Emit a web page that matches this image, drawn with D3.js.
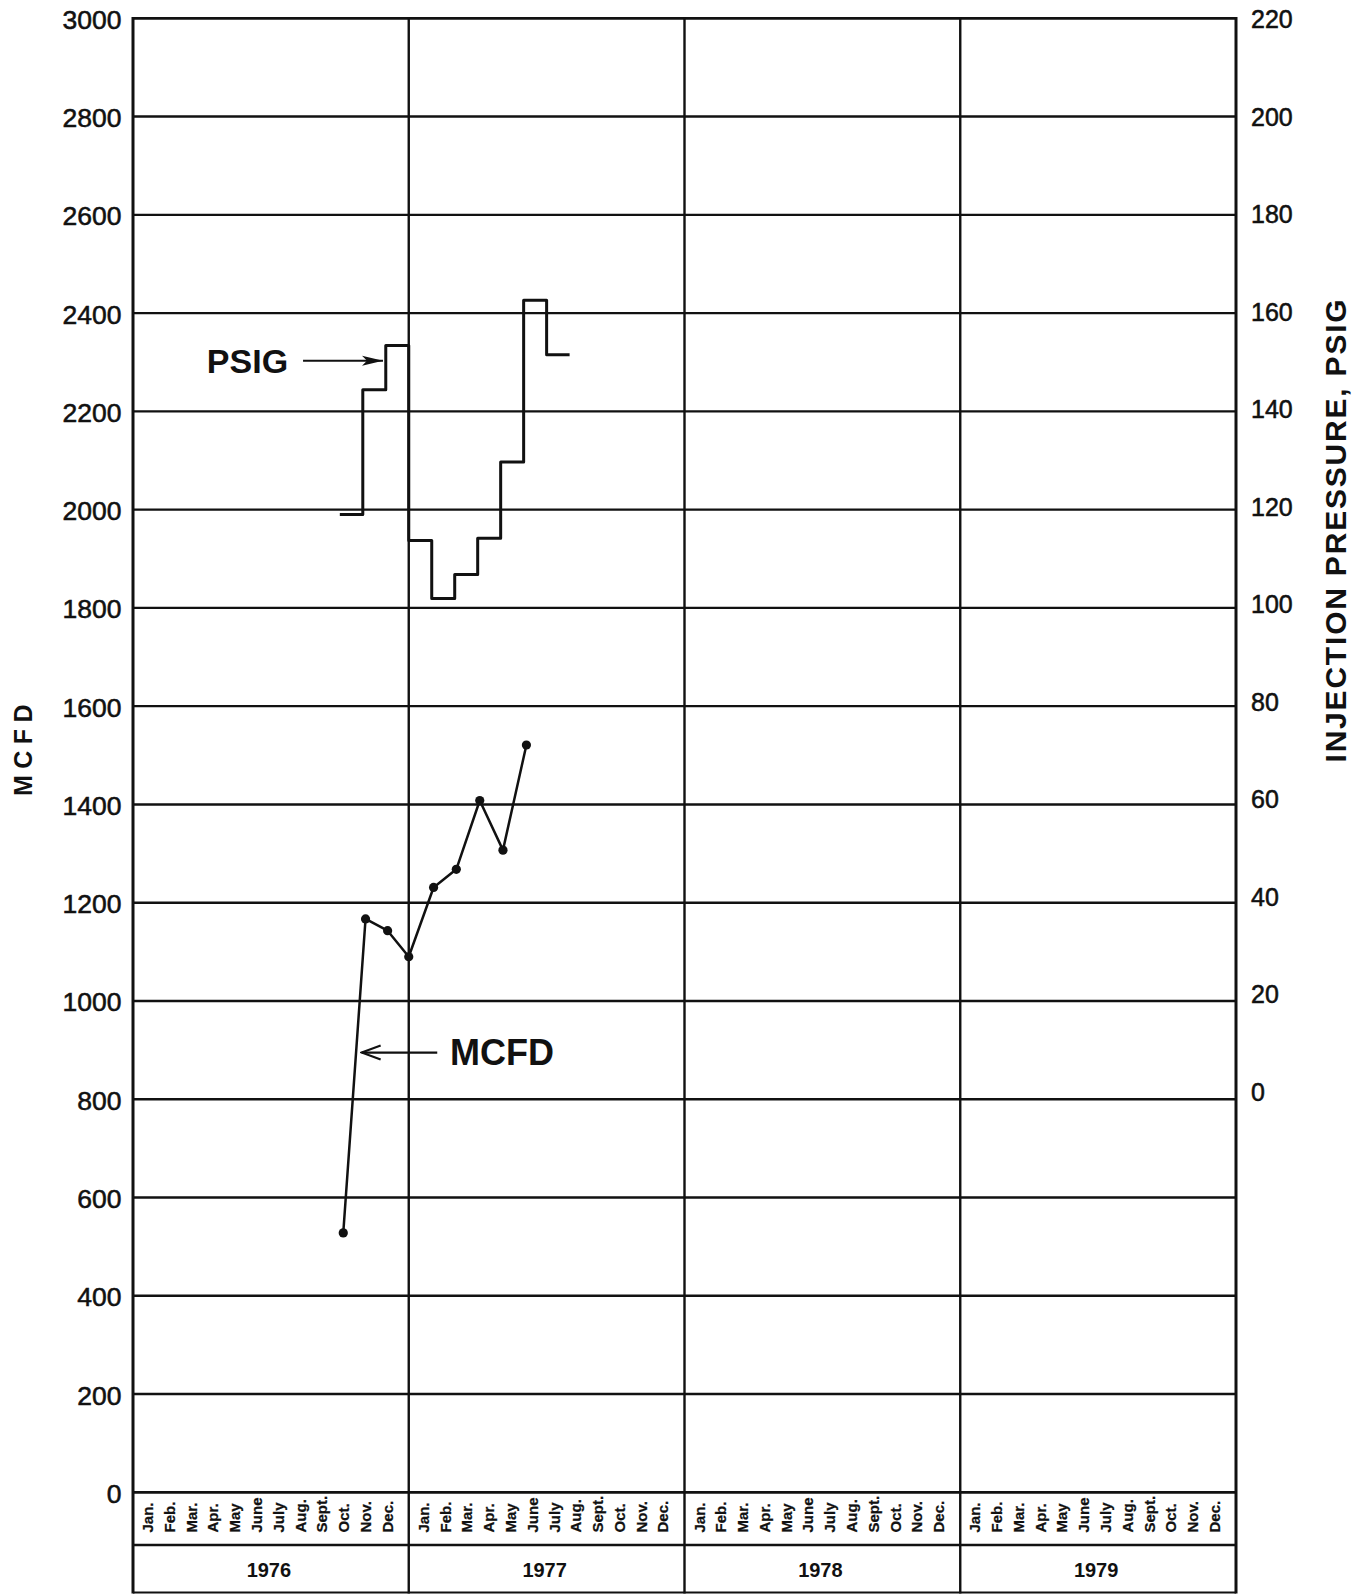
<!DOCTYPE html>
<html>
<head>
<meta charset="utf-8">
<script src="https://cdn.jsdelivr.net/npm/d3@7"></script>
<style>
  html, body { margin: 0; padding: 0; background: #fff; }
  svg { display: block; }
  text { font-family: "Liberation Sans", Arial, Helvetica, sans-serif; fill: #111; }
</style>
</head>
<body>
<svg id="chart" width="1364" height="1594"></svg>
<script>
// ---- data ----
const years = [1976, 1977, 1978, 1979];
const monthLabels = ["Jan.", "Feb.", "Mar.", "Apr.", "May", "June", "July", "Aug.", "Sept.", "Oct.", "Nov.", "Dec."];
const mcfdTicks = d3.range(0, 3001, 200);
const psigTicks = d3.range(0, 221, 20);

// Injection rate (MCFD); position in months counted from Jan. 1, 1976
const mcfdMonth = [9.15, 10.12, 11.08, 12.0, 13.08, 14.07, 15.09, 16.1, 17.12];
const mcfdValue = [528, 1167, 1143, 1090, 1231, 1268, 1408, 1307, 1521];

// Monthly injection pressure (PSIG), one value per month from Oct. 1976
const psigStartMonth = 9;
const psigValue = [119, 144.4, 153.4, 113.7, 101.9, 106.8, 114.2, 129.7, 162.6, 151.5];

// ---- layout ----
const W = 1364, H = 1594;
const plotLeft = 133, plotRight = 1236, plotTop = 18.3, plotBottom = 1492.3;
const monthRowBottom = 1545, yearRowBottom = 1592.5;
const ink = "#111";

const svg = d3.select("#chart");
svg.append("rect").attr("width", W).attr("height", H).attr("fill", "#fff");

const x = d3.scaleLinear().domain([0, years.length * 12]).range([plotLeft, plotRight]);
const y = d3.scaleLinear().domain([0, 3000]).range([plotBottom, plotTop]);
// right axis: 0 PSIG sits on the 800 MCFD line, 20 PSIG per 200 MCFD
const yP = d3.scaleLinear().domain([-80, 220]).range([plotBottom, plotTop]);

// ---- grid ----
const grid = svg.append("g").attr("stroke", ink).attr("fill", "none");
grid.selectAll("line.h").data(mcfdTicks).join("line")
  .attr("class", "h")
  .attr("x1", x(0)).attr("x2", x(years.length * 12))
  .attr("y1", d => y(d)).attr("y2", d => y(d))
  .attr("stroke-width", d => (d === 0 || d === 3000) ? 2.8 : 2.4);

const bounds = d3.range(0, years.length + 1).map(i => i * 12);
grid.selectAll("line.v").data(bounds).join("line")
  .attr("class", "v")
  .attr("x1", d => x(d)).attr("x2", d => x(d))
  .attr("y1", plotTop - 1.2).attr("y2", yearRowBottom + 1)
  .attr("stroke-width", (d, i) => (i === 0 || i === bounds.length - 1) ? 3 : 2.4);

grid.append("line")
  .attr("x1", x(0)).attr("x2", x(years.length * 12))
  .attr("y1", monthRowBottom).attr("y2", monthRowBottom)
  .attr("stroke-width", 2.6);
grid.append("line")
  .attr("x1", x(0)).attr("x2", x(years.length * 12))
  .attr("y1", yearRowBottom).attr("y2", yearRowBottom)
  .attr("stroke-width", 2.2);

// ---- axis labels ----
svg.append("g").selectAll("text").data(mcfdTicks).join("text")
  .attr("x", plotLeft - 11.5)
  .attr("y", d => y(d) + 1.2)
  .attr("dy", "0.35em")
  .attr("text-anchor", "end")
  .attr("font-size", 26.5)
  .attr("stroke", ink).attr("stroke-width", 0.55)
  .text(d => d);

svg.append("g").selectAll("text").data(psigTicks).join("text")
  .attr("x", plotRight + 15)
  .attr("y", d => yP(d) + 1 - 8 * (1 - d / 220))
  .attr("dy", "0.35em")
  .attr("text-anchor", "start")
  .attr("font-size", 25)
  .attr("stroke", ink).attr("stroke-width", 0.55)
  .text(d => d);

// month names, rotated, per year
years.forEach((yr, yi) => {
  const mx = d3.scalePoint().domain(monthLabels)
    .range([x(yi * 12), x(yi * 12 + 12)])
    .padding(0.83).align(0.41);
  svg.append("g").selectAll("text").data(monthLabels).join("text")
    .attr("transform", d => `translate(${mx(d)},1532.5) rotate(-90)`)
    .attr("dy", "0.35em")
    .attr("text-anchor", "start")
    .attr("font-size", 15)
    .attr("font-weight", "bold")
    .attr("stroke", ink).attr("stroke-width", 0.25)
    .text(d => d);
});

svg.append("g").selectAll("text").data(years).join("text")
  .attr("x", (d, i) => x(i * 12 + 6) - 2)
  .attr("y", (monthRowBottom + yearRowBottom) / 2 + 1)
  .attr("dy", "0.35em")
  .attr("text-anchor", "middle")
  .attr("font-size", 20)
  .attr("font-weight", "bold")
  .text(d => d);

// axis titles
svg.append("text")
  .attr("transform", `translate(23,747) rotate(-90)`)
  .attr("dy", "0.35em")
  .attr("text-anchor", "middle")
  .attr("font-size", 25)
  .attr("font-weight", "bold")
  .attr("letter-spacing", 6.5)
  .text("MCFD");

svg.append("text")
  .attr("transform", `translate(1335,530) rotate(-90)`)
  .attr("dy", "0.35em")
  .attr("text-anchor", "middle")
  .attr("font-size", 30)
  .attr("font-weight", "bold")
  .attr("letter-spacing", 1.8)
  .text("INJECTION PRESSURE, PSIG");

// ---- series ----
const psigPts = psigValue.map((v, i) => ({ m: psigStartMonth + i, v }));
psigPts.push({ m: psigStartMonth + psigValue.length, v: psigValue[psigValue.length - 1] });

svg.append("path")
  .datum(psigPts)
  .attr("fill", "none")
  .attr("stroke", ink)
  .attr("stroke-width", 3)
  .attr("stroke-linejoin", "round")
  .attr("d", d3.line().x(d => x(d.m)).y(d => yP(d.v)).curve(d3.curveStepAfter));

const mcfdPts = mcfdValue.map((v, i) => ({ m: mcfdMonth[i], v }));
svg.append("path")
  .datum(mcfdPts)
  .attr("fill", "none")
  .attr("stroke", ink)
  .attr("stroke-width", 2.5)
  .attr("stroke-linejoin", "round")
  .attr("d", d3.line().x(d => x(d.m)).y(d => y(d.v)));

svg.append("g").selectAll("circle").data(mcfdPts).join("circle")
  .attr("cx", d => x(d.m))
  .attr("cy", d => y(d.v))
  .attr("r", 4.6)
  .attr("fill", ink);

// ---- callouts ----
const defs = svg.append("defs");
defs.append("marker")
  .attr("id", "headSolid")
  .attr("viewBox", "-24 -7 26 14")
  .attr("refX", 0).attr("refY", 0)
  .attr("markerWidth", 26).attr("markerHeight", 14)
  .attr("markerUnits", "userSpaceOnUse")
  .attr("orient", "auto")
  .append("path")
  .attr("d", "M-21,-5L0,0L-21,5L-16,0Z")
  .attr("fill", ink);

defs.append("marker")
  .attr("id", "headOpen")
  .attr("viewBox", "-22 -9 24 18")
  .attr("refX", 0).attr("refY", 0)
  .attr("markerWidth", 24).attr("markerHeight", 18)
  .attr("markerUnits", "userSpaceOnUse")
  .attr("orient", "auto")
  .append("path")
  .attr("d", "M-19,-7L0,0L-19,7")
  .attr("fill", "none")
  .attr("stroke", ink)
  .attr("stroke-width", 2.2);

const psigCallout = { textM: 6.75, tailM: 7.4, tipM: 10.88, v: 150.3 };
svg.append("text")
  .attr("x", x(psigCallout.textM))
  .attr("y", yP(psigCallout.v))
  .attr("dy", "0.35em")
  .attr("text-anchor", "end")
  .attr("font-size", 34)
  .attr("font-weight", "bold")
  .text("PSIG");
svg.append("line")
  .attr("x1", x(psigCallout.tailM)).attr("x2", x(psigCallout.tipM))
  .attr("y1", yP(psigCallout.v)).attr("y2", yP(psigCallout.v))
  .attr("stroke", ink).attr("stroke-width", 2.2)
  .attr("marker-end", "url(#headSolid)");

const mcfdCallout = { textM: 13.8, tailM: 13.24, tipM: 9.95, v: 895 };
svg.append("text")
  .attr("x", x(mcfdCallout.textM))
  .attr("y", y(mcfdCallout.v))
  .attr("dy", "0.35em")
  .attr("text-anchor", "start")
  .attr("font-size", 36)
  .attr("font-weight", "bold")
  .text("MCFD");
svg.append("line")
  .attr("x1", x(mcfdCallout.tailM)).attr("x2", x(mcfdCallout.tipM))
  .attr("y1", y(mcfdCallout.v)).attr("y2", y(mcfdCallout.v))
  .attr("stroke", ink).attr("stroke-width", 2.2)
  .attr("marker-end", "url(#headOpen)");
</script>
</body>
</html>
